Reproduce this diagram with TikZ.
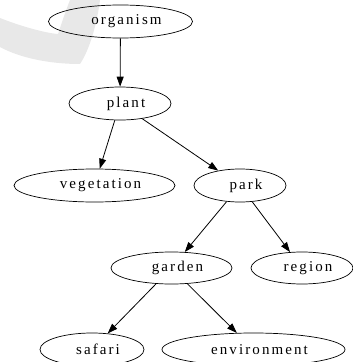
\documentclass[tikz,border=0pt]{standalone}
\usepackage{fontspec}
\setmainfont{Liberation Serif}[LetterSpace=14]
\usetikzlibrary{shapes.geometric,arrows.meta}
\begin{document}
\begin{tikzpicture}[x=1pt,y=-1pt,
  nd/.style={ellipse,draw,line width=0.7pt,inner sep=0pt,font=\fontsize{15}{17}\selectfont,
    execute at begin node={\hspace*{12pt}}},
  edge/.style={line width=0.8pt,-{Triangle[length=10pt,width=7pt]}}]
\useasboundingbox (0,0) rectangle (353,362);
% watermark swoosh
\fill[gray!18] (70,0) -- (100,0) .. controls (96,30) and (88,52) .. (80,64)
  .. controls (50,64) and (20,58) .. (0,47) -- (0,18)
  .. controls (20,26) and (45,33) .. (58,34) .. controls (62,22) and (66,10) .. (70,0) -- cycle;
\node[nd,minimum width=144pt,minimum height=33pt] (organism) at (120.5,21.5) {organism};
\node[nd,minimum width=102pt,minimum height=33pt] (plant) at (120,103.5) {plant};
\node[nd,minimum width=161pt,minimum height=33pt] (vegetation) at (94.5,185.5) {vegetation};
\node[nd,minimum width=92pt,minimum height=33pt] (park) at (240,185.5) {park};
\node[nd,minimum width=121pt,minimum height=32pt] (garden) at (171.5,268) {garden};
\node[nd,minimum width=102pt,minimum height=32pt] (region) at (302,268) {region};
\node[nd,minimum width=104pt,minimum height=33pt] (safari) at (92,349.5) {safari};
\node[nd,minimum width=183pt,minimum height=33pt] (environment) at (253.5,349.5) {environment};
\draw[edge] (organism) -- (plant);
\draw[edge] (plant) -- (vegetation);
\draw[edge] (plant) -- (park);
\draw[edge] (park) -- (garden);
\draw[edge] (park) -- (region);
\draw[edge] (garden) -- (safari);
\draw[edge] (garden) -- (environment);
\end{tikzpicture}
\end{document}
